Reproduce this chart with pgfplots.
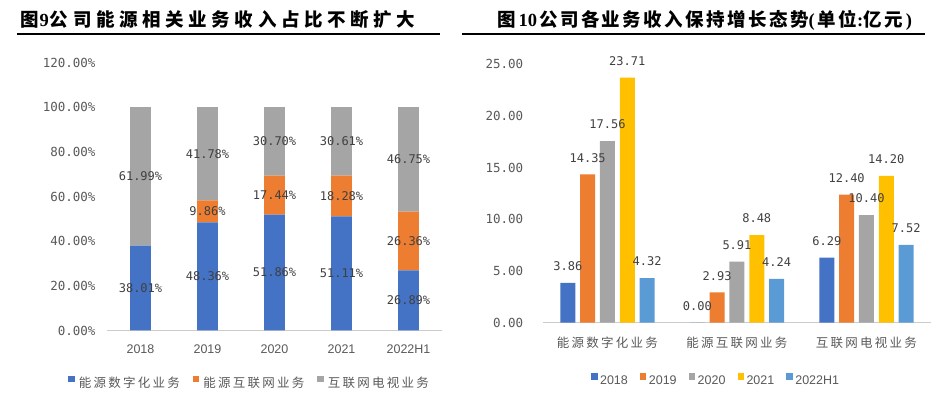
\documentclass[border=0pt]{standalone}
\usepackage{pgfplots}
\pgfplotsset{compat=1.18}
\usepackage{pgfplotstable}
\usepackage{fontspec}
\setmainfont{Liberation Sans}
\newfontfamily\cjk[LetterSpace=18]{Noto Sans CJK SC}
\newfontfamily\cjkta[LetterSpace=25]{Noto Sans CJK SC}
\newfontfamily\cjktb[LetterSpace=13]{Noto Sans CJK SC}
\newfontfamily\mono{DejaVu Sans Mono}
\newfontfamily\tnr{Liberation Serif}
\definecolor{c1}{HTML}{4472C4}
\definecolor{c2}{HTML}{ED7D31}
\definecolor{c3}{HTML}{A5A5A5}
\definecolor{c4}{HTML}{FFC000}
\definecolor{c5}{HTML}{5B9BD5}
\definecolor{lbl}{HTML}{595959}
\definecolor{dat}{HTML}{404040}

\pgfplotstableread{
x a b c
0 38.01 0.00 61.99
1 48.36 9.86 41.78
2 51.86 17.44 30.70
3 51.11 18.28 30.61
4 26.89 26.36 46.75
}\sharetable

\pgfplotstableread{
x y2018 y2019 y2020 y2021 y2022
0 3.86 14.35 17.56 23.71 4.32
1 0.00 2.93 5.91 8.48 4.24
2 6.29 12.40 10.40 14.20 7.52
}\revtable

\pgfplotsset{
  /pgf/number format/assume math mode=true,
  sqlegend/.style={legend image code/.code={\fill[##1,draw=none] (0pt,1pt) rectangle (6.5pt,7.5pt);}},
}

\begin{document}
\begin{tikzpicture}
\path[use as bounding box] (0pt,0pt) rectangle (941pt,395pt);
% titles
\node[anchor=base west, inner sep=0pt] at (20pt,368pt) {\fontsize{18.5}{21}\selectfont\bfseries{\cjkta 图}\hspace{1pt}{\tnr 9}\hspace{1pt}{\cjkta 公司能源相关业务收入占比不断扩大}};
\draw[line width=1.5pt] (17pt,361pt) -- (440pt,361pt);
\node[anchor=base west, inner sep=0pt] at (497pt,368pt) {\fontsize{18.5}{21}\selectfont\bfseries{\cjktb 图}\hspace{3pt}{\tnr 10}\hspace{2pt}{\cjktb 公司各业务收入保持增长态势}{\tnr (\,}{\cjktb 单位}{\tnr :}{\cjktb 亿元}{\tnr \,)}};
\draw[line width=1.5pt] (462pt,361pt) -- (925pt,361pt);

% left chart
\begin{axis}[
  at={(107pt,64.5pt)}, anchor=south west,
  scale only axis, width=335pt, height=268pt,
  xmin=-0.5, xmax=4.5, ymin=0, ymax=120,
  ybar stacked, bar width=0.31,
  axis x line*=bottom, axis y line*=left,
  y axis line style={draw=none},
  x axis line style={draw=black!20, line width=0.9pt, -},
  major tick length=0pt,
  xtick={0,1,2,3,4}, xticklabels={2018,2019,2020,2021,2022H1},
  xticklabel style={font=\fontsize{12.5}{14}\selectfont, text=lbl, yshift=-11pt},
  ytick={0,20,40,60,80,100,120},
  yticklabel={\mono\pgfmathprintnumber[fixed,fixed zerofill,precision=2]{\tick}\%},
  yticklabel style={font=\fontsize{12.5}{14}\selectfont, text=lbl, xshift=-8pt},
  point meta=explicit,
  nodes near coords={\mono\pgfmathprintnumber[fixed,fixed zerofill,precision=2]{\pgfplotspointmeta}\%},
  every node near coord/.append style={font=\fontsize{12}{14}\selectfont, text=dat, anchor=center},
  legend style={at={(0.424,-0.196)}, anchor=center, legend columns=-1, draw=none, fill=none,
    font=\cjk\fontsize{12.5}{14}\selectfont, text=lbl,
    /tikz/every even column/.append style={column sep=12pt},
    /tikz/every odd column/.append style={column sep=3pt},
    nodes={inner sep=1pt}},
  clip=false,
]
\addplot[fill=c1, draw=none, sqlegend] table[x=x,y=a,meta=a] {\sharetable};
\addlegendentry{能源数字化业务}
\addplot[fill=c2, draw=none, sqlegend] table[x=x,y=b,meta=b] {\sharetable};
\addlegendentry{能源互联网业务}
\addplot[fill=c3, draw=none, sqlegend] table[x=x,y=c,meta=c] {\sharetable};
\addlegendentry{互联网电视业务}
\end{axis}

% right chart
\begin{axis}[
  at={(542.7pt,72.3pt)}, anchor=south west,
  scale only axis, width=388.5pt, height=258.4pt,
  xmin=-0.5, xmax=2.5, ymin=0, ymax=25,
  ybar=4.8pt, bar width=15pt,
  axis x line*=bottom, axis y line*=left,
  y axis line style={draw=none},
  x axis line style={draw=black!20, line width=0.9pt, -},
  major tick length=0pt,
  xtick={0,1,2}, xticklabels={能源数字化业务,能源互联网业务,互联网电视业务},
  xticklabel style={font=\cjk\fontsize{12.5}{14}\selectfont, text=lbl, yshift=-11pt},
  ytick={0,5,10,15,20,25},
  yticklabel={\mono\pgfmathprintnumber[fixed,fixed zerofill,precision=2]{\tick}},
  yticklabel style={font=\fontsize{12.5}{14}\selectfont, text=lbl, xshift=-16pt},
  point meta=explicit,
  nodes near coords={\mono\pgfmathprintnumber[fixed,fixed zerofill,precision=2]{\pgfplotspointmeta}},
  every node near coord/.append style={font=\fontsize{12}{14}\selectfont, text=dat, yshift=8.6pt},
  legend style={at={(0.445,-0.222)}, anchor=center, legend columns=-1, draw=none, fill=none,
    font=\fontsize{12.5}{14}\selectfont, text=lbl,
    /tikz/every even column/.append style={column sep=11pt},
    /tikz/every odd column/.append style={column sep=1.5pt},
    nodes={inner sep=1pt}},
  clip=false,
]
\addplot[fill=c1, draw=none, sqlegend] table[x=x,y=y2018,meta=y2018] {\revtable};
\addlegendentry{2018}
\addplot[fill=c2, draw=none, sqlegend] table[x=x,y=y2019,meta=y2019] {\revtable};
\addlegendentry{2019}
\addplot[fill=c3, draw=none, sqlegend] table[x=x,y=y2020,meta=y2020] {\revtable};
\addlegendentry{2020}
\addplot[fill=c4, draw=none, sqlegend] table[x=x,y=y2021,meta=y2021] {\revtable};
\addlegendentry{2021}
\addplot[fill=c5, draw=none, sqlegend] table[x=x,y=y2022,meta=y2022] {\revtable};
\addlegendentry{2022H1}
\end{axis}
\end{tikzpicture}
\end{document}
